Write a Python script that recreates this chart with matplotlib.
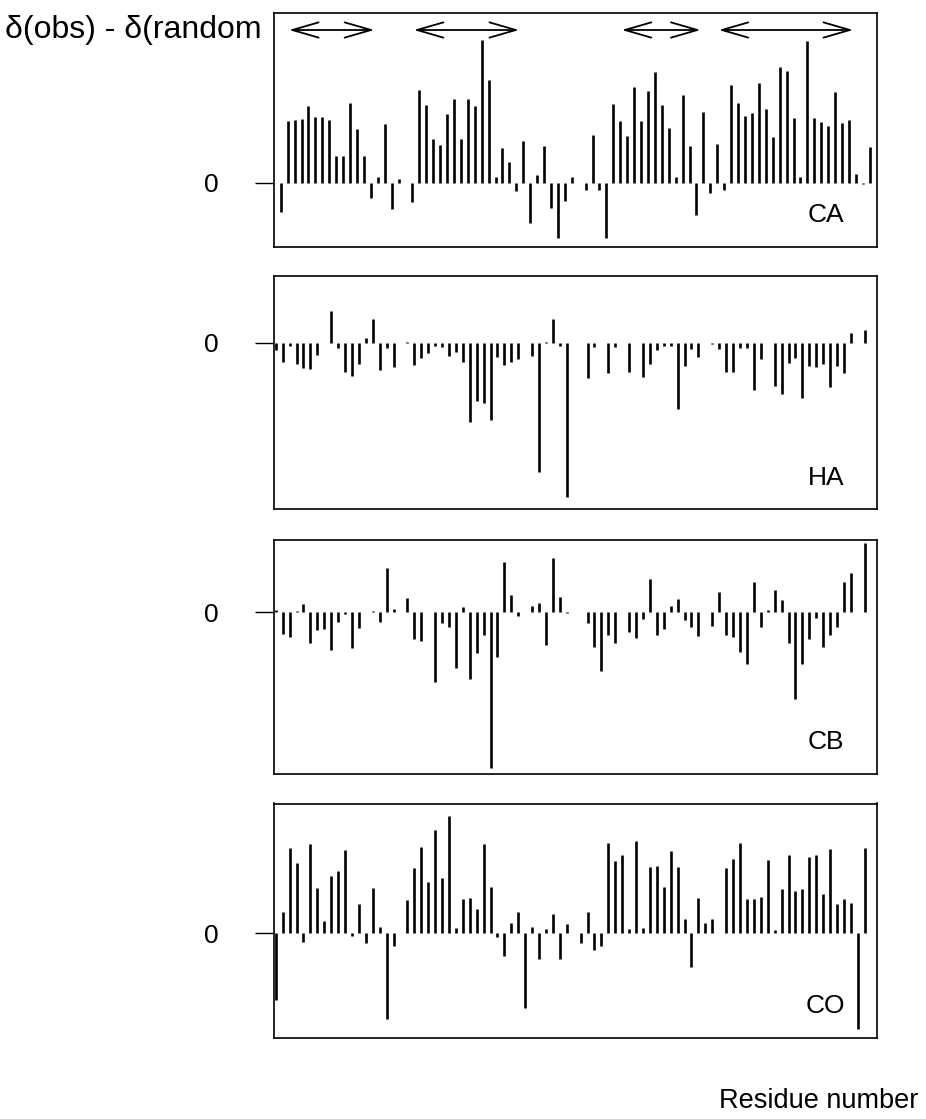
import numpy as np
import matplotlib
matplotlib.use("Agg")
import matplotlib.pyplot as plt

plt.rcParams['font.family'] = ['Liberation Sans', 'DejaVu Sans']

# ---------------- data (arbitrary units) ----------------
residue = np.arange(1, 87)

ca = [-29.7, 62, 62.7, 64, 77, 65.3, 66, 62.7, 26.7, 26.7,
      80, 53.7, 26.7, -15.7, 6, 58.3, -26.7, 3.7, 0, -19.7,
      92.3, 77.7, 43.7, 37.7, 68.7, 83.3, 43.3, 83.3, 76.3, 142.7,
      102.3, 6, 35, 21, -8.3, 41.7, -40, 7.7, 37, -25.7,
      -55, -18.3, 6, 0, -7.3, 47.7, -7.3, -55.7, 78.7, 61.7,
      46.7, 95.7, 61.7, 92, 111, 77.3, 55, 6, 87.3, 37,
      -32.7, 71, -10, 38.7, -7.3, 97.3, 79.3, 66.7, 69.3, 99.7,
      74, 45.3, 115.7, 112, 65, 6, 141.7, 64.3, 60.7, 56.7,
      91, 59.7, 62.7, 9, -1.3, 36]

ha = [-7.3, -19, -3.3, -21.3, -25, -26.3, -12.3, -0.5, 31.7, -5.7,
      -29.3, -33, -21.3, 4.3, 23.7, -27.3, -5.7, -24, 0, 0.4,
      -22.3, -15.7, -10.7, -3, -4, -13.3, -9, -19, -79, -58.3,
      -60, -77.3, -14.7, -22, -19.5, -16.7, 0, -13, -129, 0.4,
      23.7, -3, -154, 0, 0, -35.7, -4, 0, -30.7, -4.7,
      0, -29.7, 0, -34.7, -21.7, -7.3, -3.3, -3.3, -66.7, -23.3,
      -6.3, -14.7, 0, -1.3, -6.7, -29, -29, -5.7, -5, -47.3,
      -16.7, 0, -43.3, -51.7, -20.7, -15.7, -55.7, -23.3, -24, -21.3,
      -44, -23.3, -30.7, 9.3, 0, 12.7]

cb = [2.3, -22, -24.3, 1.5, 8.3, -31, -17.7, -17, -37.3, -9.3,
      -1.2, -36, -16, 0.3, 1.5, -9.3, 44, 3.3, 0, 14,
      -26.7, -28.3, 0.3, -70, -10.5, -15, -56, 5, -66.7, -41,
      -22.7, -156, -45, 50, 17.5, -3.3, 0, 6.7, 9.7, -32.7,
      54.7, 15, -0.4, 0, 0, -10.3, -35, -58.7, -22.7, -31,
      0, -19.3, -26, -7, 33.3, -22.7, -17, 6.3, 13.3, -7.7,
      -14.3, -23.3, 0, -13.7, 20.7, -22.7, -24.3, -39.3, -52, 30,
      -14.3, 2.3, 22.3, 12.3, -31, -86.7, -52, -27, -6, -34.3,
      -22.7, -15, 30.7, 39, 0, 69]

co = [-66.7, 21, 85.7, 70, -8.3, 89, 45.7, 12.7, 57.7, 62.3,
      83.3, -2.7, 29.3, -10, 45.7, 6.7, -85.7, -12.3, 0, 33.3,
      65.7, 86.7, 51.3, 103, 55, 117.3, 5.3, 34.3, 35, 24.7,
      89.3, 46, -4, -22.3, 10, 21, -75, 6, -26, 4.3,
      19, -26, 9, 0, -9.3, 21, -16.7, -12.3, 90, 72.3,
      78.3, 4, 92.3, 5, 66.7, 67.3, 46, 82.3, 66.7, 14,
      -34, 35, 10.7, 14, 0.5, 65.7, 74.3, 90, 34.3, 34.3,
      36.7, 73, 3.3, 44.7, 78.3, 42.7, 44, 76.3, 78, 39.3,
      84.7, 29, 34.7, 30.7, -95.7, 85]

# secondary structure (strands) drawn as double arrows over the CA panel
strands = [(2.2, 14.5), (20.2, 35.4), (50.2, 61.6), (64.2, 83.6)]

names = ['CA', 'HA', 'CB', 'CO']
values = [ca, ha, cb, co]

# ---------------- layout (pixel boxes of the reference) ----------------
W, H = 926, 1119
boxes = [(13, 247), (276, 509), (540, 774), (803.5, 1037.5)]   # top, bottom
ylims = [(-64.3, 169.7), (-166.3, 66.7), (-161.7, 72.3), (-104.2, 129.8)]
xlims = [(0.03, 87.05), (0.75, 87.77), (0.75, 87.77), (0.75, 87.77)]
x_left, x_right = 274, 877

fig = plt.figure(figsize=(W / 100, H / 100), dpi=100)

for k in range(4):
    top, bot = boxes[k]
    ax = fig.add_axes([x_left / W, 1 - bot / H, (x_right - x_left) / W, (bot - top) / H])
    ax.vlines(residue, 0, values[k], colors='k', linewidth=1.9, capstyle='butt')
    ax.set_xlim(xlims[k])
    ax.set_ylim(ylims[k])
    ax.set_xticks([])
    ax.set_yticks([0])
    ax.set_yticklabels(['0'])
    ax.tick_params(axis='y', length=14, width=1, pad=26, labelsize=19)
    for s in ax.spines.values():
        s.set_linewidth(1.2)
        s.set_color('k')
    ax.text(0.915, 0.135, names[k], transform=ax.transAxes, fontsize=19,
            ha='center', va='center')
    if k == 0:
        for a, b in strands:
            ax.annotate('', xy=(b, 152.7), xytext=(a, 152.7),
                        arrowprops=dict(arrowstyle='<->, head_length=1.9, head_width=0.55',
                                        lw=1.3, color='k', shrinkA=0, shrinkB=0,
                                        mutation_scale=10))

fig.text(5 / W, 1 - 30 / H, 'δ(obs) - δ(random', fontsize=23, ha='left', va='center')
fig.text(918 / W, 1 - 1101 / H, 'Residue number', fontsize=19.5, ha='right', va='center')

fig.savefig('out.png', dpi=100)
